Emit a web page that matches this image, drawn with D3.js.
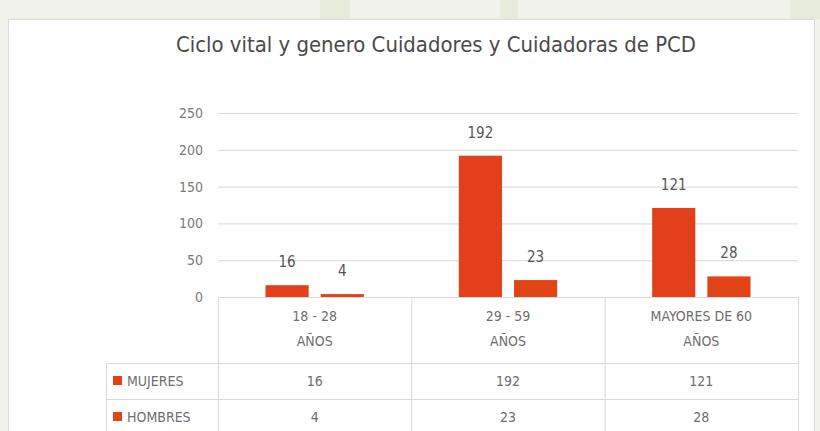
<!DOCTYPE html>
<html>
<head>
<meta charset="utf-8">
<script src="https://cdn.jsdelivr.net/npm/d3@7"></script>
<style>
  html, body { margin: 0; padding: 0; background: #f1f2ea; }
  svg { display: block; }
  text { font-family: "Liberation Sans Narrow", "DejaVu Sans Condensed", "Open Sans", sans-serif; }
</style>
</head>
<body>
<svg id="chart" width="820" height="431"></svg>
<script>
const title = "Ciclo vital y genero Cuidadores y Cuidadoras de PCD";
const categories = ["18 - 28 AÑOS", "29 - 59 AÑOS", "MAYORES DE 60 AÑOS"];
const categoryLines = [["18 - 28", "AÑOS"], ["29 - 59", "AÑOS"], ["MAYORES DE 60", "AÑOS"]];
const seriesNames = ["MUJERES", "HOMBRES"];
const mujeres = [16, 192, 121];
const hombres = [4, 23, 28];
const yTicks = [0, 50, 100, 150, 200, 250];
const seriesColors = ["#e2401a", "#e24416"];

const values = [mujeres, hombres];
const svg = d3.select("#chart");

// photo-like background hints
svg.append("rect").attr("x", 0).attr("y", 0).attr("width", 820).attr("height", 431).attr("fill", "#f1f2ea");
[[320, 30], [500, 18], [790, 40]].forEach(([x, w]) => {
  svg.append("rect").attr("x", x).attr("y", 0).attr("width", w).attr("height", 19).attr("fill", "#e4e9d6").attr("opacity", 0.8);
});
// chart box
svg.append("rect").attr("x", 8.5).attr("y", 19.5).attr("width", 806).attr("height", 430)
  .attr("fill", "#ffffff").attr("stroke", "#dcdcd4");

const pLeft = 218, pRight = 798, pTop = 113, pBottom = 297;

const x0 = d3.scaleBand().domain(categories).range([pLeft, pRight]).paddingInner(0).paddingOuter(0);
const x1 = d3.scaleBand().domain(seriesNames).range([0, x0.bandwidth()]).paddingInner(0.218).paddingOuter(0.86);
const y = d3.scaleLinear().domain([0, 250]).range([pBottom, pTop]);

// title
svg.append("text").attr("x", 436).attr("y", 52).attr("text-anchor", "middle")
  .attr("font-size", 21).attr("fill", "#4a4a4a")
  .attr("textLength", 520).attr("lengthAdjust", "spacingAndGlyphs")
  .text(title);

// y axis with gridlines
const yAxis = d3.axisLeft(y).tickValues(yTicks).tickSize(-(pRight - pLeft)).tickPadding(15);
const gy = svg.append("g").attr("transform", `translate(${pLeft},0)`).call(yAxis);
gy.select(".domain").remove();
gy.selectAll(".tick line").attr("stroke", "#d9d9d9").attr("stroke-width", 1);
gy.selectAll(".tick text").attr("fill", "#7a7a7a").attr("font-size", 14)
  .attr("font-family", "\"Liberation Sans Narrow\", \"DejaVu Sans Condensed\", sans-serif");

// bars
const groups = svg.append("g").selectAll("g").data(categories).join("g")
  .attr("transform", d => `translate(${x0(d)},0)`);
seriesNames.forEach((s, si) => {
  groups.append("rect")
    .attr("x", x1(s))
    .attr("width", x1.bandwidth())
    .attr("y", (d, i) => y(values[si][i]))
    .attr("height", (d, i) => y(0) - y(values[si][i]))
    .attr("fill", seriesColors[si]);
  groups.append("text")
    .attr("x", x1(s) + x1.bandwidth() / 2)
    .attr("y", (d, i) => y(values[si][i]) - 18)
    .attr("text-anchor", "middle")
    .attr("font-size", 15).attr("fill", "#555")
    .text((d, i) => values[si][i]);
});

// data table
const lineColor = "#d9d9d9";
const tbl = svg.append("g");
tbl.append("line").attr("x1", pLeft).attr("x2", pRight).attr("y1", pBottom + 0.5).attr("y2", pBottom + 0.5).attr("stroke", lineColor);
[363, 399].forEach(yy => {
  tbl.append("line").attr("x1", 106).attr("x2", pRight).attr("y1", yy + 0.5).attr("y2", yy + 0.5).attr("stroke", lineColor);
});
const vx = categories.map(c => x0(c)).concat([pRight]);
vx.forEach(xx => {
  tbl.append("line").attr("x1", xx + 0.5).attr("x2", xx + 0.5).attr("y1", pBottom).attr("y2", 431).attr("stroke", lineColor);
});
tbl.append("line").attr("x1", 106.5).attr("x2", 106.5).attr("y1", 363).attr("y2", 431).attr("stroke", lineColor);

categories.forEach((c, i) => {
  const cx = x0(c) + x0.bandwidth() / 2;
  categoryLines[i].forEach((ln, li) => {
    tbl.append("text").attr("x", cx).attr("y", 321 + li * 25).attr("text-anchor", "middle")
      .attr("font-size", 14).attr("fill", "#6e6e6e").text(ln);
  });
});
const rowCenters = [381, 417];
seriesNames.forEach((s, si) => {
  tbl.append("rect").attr("x", 113).attr("y", rowCenters[si] - 5).attr("width", 9).attr("height", 9)
    .attr("fill", seriesColors[si]);
  tbl.append("text").attr("x", 127).attr("y", rowCenters[si] + 5).attr("font-size", 14)
    .attr("fill", "#6e6e6e").text(s);
  categories.forEach((c, i) => {
    tbl.append("text").attr("x", x0(c) + x0.bandwidth() / 2).attr("y", rowCenters[si] + 5)
      .attr("text-anchor", "middle").attr("font-size", 14).attr("fill", "#6e6e6e")
      .text(values[si][i]);
  });
});
</script>
</body>
</html>
